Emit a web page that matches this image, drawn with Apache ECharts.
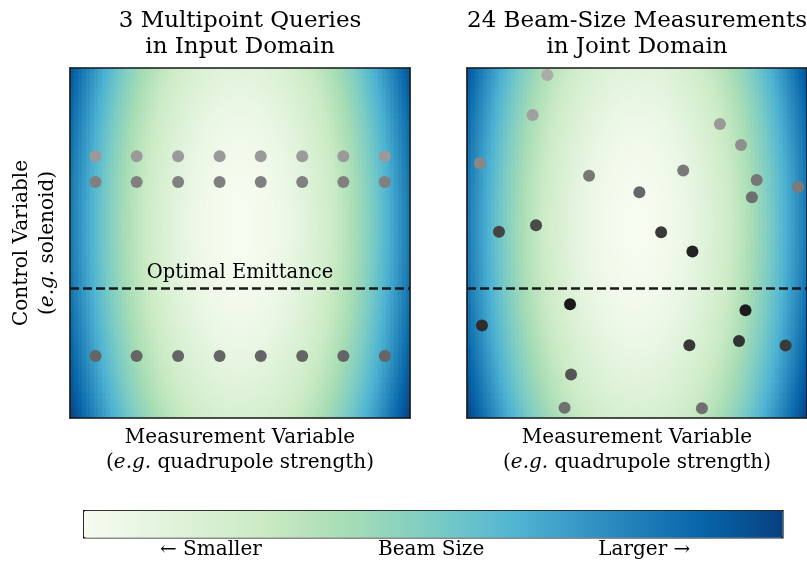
<!DOCTYPE html>
<html>
<head>
<meta charset="utf-8">
<script src="https://cdn.jsdelivr.net/npm/echarts@6/dist/echarts.min.js"></script>
<style>
  html, body { margin: 0; padding: 0; background: #ffffff; }
  #main { width: 807px; height: 562px; }
</style>
</head>
<body>
<div id="main"></div>
<script>
// ---- Beam-size surface (quadratic bowl, steep along the measurement axis) ----
const fieldCols = 85;
const fieldRows = 70;
const bowlCenterMeasure = 0.5;
const bowlCenterControl = 0.55;
const curvatureMeasure = 0.82;
const curvatureControl = 0.15;

// Control setting that gives the optimal emittance
const optimalControl = 0.374;

// ---- Panel 1: three multipoint queries (8 measurement settings each) ----
const queryMeasure = [0.075, 0.196, 0.318, 0.440, 0.561, 0.683, 0.804, 0.926];
const queryControl = [0.748, 0.674, 0.177];
const queryShade = [154, 128, 101];

// ---- Panel 2: 24 beam-size measurements in the joint domain ----
const jointMeasure = [0.236, 0.193, 0.038, 0.359, 0.507, 0.636, 0.744, 0.806, 0.852, 0.838, 0.974, 0.094,
                      0.203, 0.571, 0.663, 0.303, 0.819, 0.044, 0.654, 0.800, 0.937, 0.306, 0.287, 0.691];
const jointControl = [0.980, 0.866, 0.728, 0.692, 0.645, 0.707, 0.840, 0.780, 0.680, 0.631, 0.660, 0.532,
                      0.551, 0.531, 0.476, 0.325, 0.308, 0.264, 0.208, 0.220, 0.207, 0.124, 0.029, 0.028];
const jointShade = [171, 160, 136, 119, 102, 122, 153, 143, 119, 110, 122, 68,
                    74, 58, 34, 26, 28, 46, 56, 51, 58, 85, 112, 112];

// ---- Text ----
const panelTitles = ['3 Multipoint Queries\nin Input Domain', '24 Beam-Size Measurements\nin Joint Domain'];
const xName = 'Measurement Variable\n({it|e.g.} quadrupole strength)';
const yName = 'Control Variable\n({it|e.g.} solenoid)';
const lineLabel = 'Optimal Emittance';
const colorbarLabels = ['\u2190 Smaller', 'Beam Size', 'Larger \u2192'];
const colorbarLabelPos = [0.183, 0.498, 0.803];

// GnBu colour ramp
const gnbu = ['#f7fcf0', '#e0f3db', '#ccebc5', '#a8ddb5', '#7bccc4', '#4eb3d3', '#2b8cbe', '#0868ac', '#084081'];

// ---- Layout ----
const FONT = 'DejaVu Serif';
const panelLeft = [70, 467];
const panelTop = 68;
const panelW = 340;
const panelH = 350;
const barLeft = 83, barTop = 510, barLen = 699, barThick = 27;
const frameColor = '#1a1a1a';

function beamSize(m, c) {
  const u = 2 * (m - bowlCenterMeasure);
  const v = (c - bowlCenterControl) / 0.5;
  return Math.min(1, curvatureMeasure * u * u + curvatureControl * v * v);
}

const fieldData = [];
for (let i = 0; i < fieldCols; i++) {
  for (let j = 0; j < fieldRows; j++) {
    fieldData.push([i, j, beamSize((i + 0.5) / fieldCols, (j + 0.5) / fieldRows)]);
  }
}
const colIdx = Array.from({ length: fieldCols }, (_, i) => i);
const rowIdx = Array.from({ length: fieldRows }, (_, j) => j);

const queryPoints = [];
queryControl.forEach((c, r) => {
  queryMeasure.forEach((m) => {
    const s = queryShade[r];
    queryPoints.push({ value: [m, c], itemStyle: { color: `rgb(${s},${s},${s})`, opacity: 1 } });
  });
});
const jointPoints = jointMeasure.map((m, k) => {
  const s = jointShade[k];
  return { value: [m, jointControl[k]], itemStyle: { color: `rgb(${s},${s},${s})`, opacity: 1 } };
});

const grids = [];
const xAxes = [];
const yAxes = [];
const series = [];

const richIt = { it: { fontStyle: 'italic', fontFamily: FONT, fontSize: 20, color: '#000' } };
const frameLine = { show: true, onZero: false, lineStyle: { color: frameColor, width: 1.6 } };

[0, 1].forEach((p) => {
  const g = { left: panelLeft[p], top: panelTop, width: panelW, height: panelH,
              containLabel: false, outerBoundsMode: 'none' };
  grids.push(Object.assign({}, g), Object.assign({}, g));
  const gHeat = 2 * p, gPts = 2 * p + 1;

  xAxes.push({
    gridIndex: gHeat, type: 'category', data: colIdx, position: 'bottom', z: 10,
    axisLine: frameLine, axisTick: { show: false }, axisLabel: { show: false }, splitLine: { show: false },
    name: xName, nameLocation: 'middle', nameGap: 7,
    nameTextStyle: { fontFamily: FONT, fontSize: 20, color: '#000', lineHeight: 25, rich: richIt }
  });
  xAxes.push({
    gridIndex: gPts, type: 'value', min: 0, max: 1, position: 'top', z: 10,
    axisLine: frameLine, axisTick: { show: false }, axisLabel: { show: false }, splitLine: { show: false }
  });
  const yHeat = {
    gridIndex: gHeat, type: 'category', data: rowIdx, position: 'left', z: 10,
    axisLine: frameLine, axisTick: { show: false }, axisLabel: { show: false }, splitLine: { show: false }
  };
  if (p === 0) {
    Object.assign(yHeat, {
      name: yName, nameLocation: 'middle', nameGap: 9,
      nameTextStyle: { fontFamily: FONT, fontSize: 20, color: '#000', lineHeight: 26, rich: richIt }
    });
  }
  yAxes.push(yHeat);
  yAxes.push({
    gridIndex: gPts, type: 'value', min: 0, max: 1, position: 'right', z: 10,
    axisLine: frameLine, axisTick: { show: false }, axisLabel: { show: false }, splitLine: { show: false }
  });

  series.push({
    type: 'heatmap', xAxisIndex: gHeat, yAxisIndex: gHeat, data: fieldData,
    progressive: 0, silent: true, emphasis: { disabled: true }
  });
  series.push({
    type: 'scatter', xAxisIndex: gPts, yAxisIndex: gPts,
    data: p === 0 ? queryPoints : jointPoints,
    symbolSize: 12, silent: true, z: 4,
    itemStyle: { opacity: 1 },
    markLine: {
      silent: true, symbol: ['none', 'none'], animation: false,
      lineStyle: { type: [9, 4], width: 2.5, color: '#1a1a1a' },
      label: p === 0
        ? { show: true, position: 'insideMiddleTop', formatter: lineLabel, distance: 6,
            fontFamily: FONT, fontSize: 19.5, color: '#000' }
        : { show: false },
      data: [{ yAxis: optimalControl }]
    }
  });
});

const graphics = [];
panelTitles.forEach((t, p) => {
  graphics.push({
    type: 'text', x: panelLeft[p] + panelW / 2, y: 8, silent: true,
    style: { text: t, fontFamily: FONT, fontSize: 23, lineHeight: 26, fill: '#000',
             align: 'center', verticalAlign: 'top' }
  });
});
colorbarLabels.forEach((t, k) => {
  graphics.push({
    type: 'text', x: barLeft + barLen * colorbarLabelPos[k], y: 550, silent: true,
    style: { text: t, fontFamily: FONT, fontSize: 20, fill: '#000', align: 'center', verticalAlign: 'middle' }
  });
});

const chart = echarts.init(document.getElementById('main'), null, { renderer: 'canvas' });
chart.setOption({
  animation: false,
  backgroundColor: '#ffffff',
  grid: grids,
  xAxis: xAxes,
  yAxis: yAxes,
  visualMap: {
    type: 'continuous', min: 0, max: 1, seriesIndex: [0, 2], orient: 'horizontal',
    left: barLeft, top: barTop, itemWidth: barThick, itemHeight: barLen,
    calculable: false, hoverLink: false, realtime: false, text: null, padding: 0,
    borderColor: frameColor, borderWidth: 1.6,
    inRange: { color: gnbu }
  },
  series: series,
  graphic: graphics
});
</script>
</body>
</html>
